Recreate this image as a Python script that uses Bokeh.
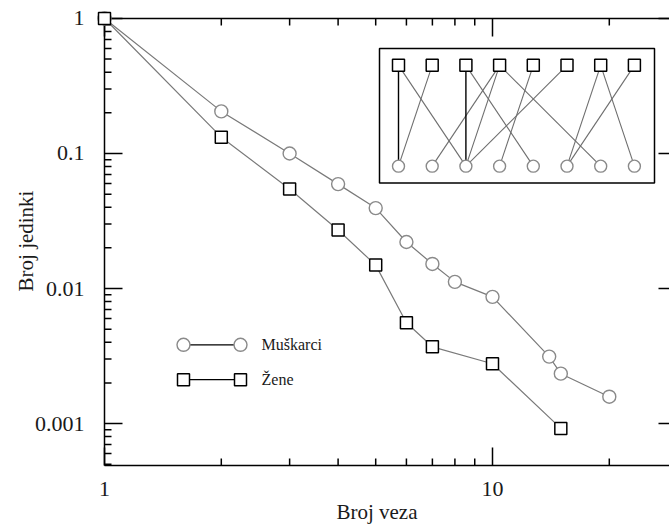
from bokeh.plotting import figure
from bokeh.models import FixedTicker, CustomJSTickFormatter, Label
from bokeh.embed import file_html
from bokeh.resources import INLINE

# ---------------- data ----------------
men_k = [1, 2, 3, 4, 5, 6, 7, 8, 10, 14, 15, 20]
men_p = [1, 0.205, 0.1, 0.0593, 0.0394, 0.0221, 0.0152, 0.0112, 0.00867, 0.00313, 0.00234, 0.00158]
women_k = [1, 2, 3, 4, 5, 6, 7, 10, 15]
women_p = [1, 0.132, 0.0545, 0.0271, 0.0149, 0.00557, 0.0037, 0.00277, 0.00092]

x_major = [1, 10]
x_minor = [2, 3, 4, 5, 6, 7, 8, 9, 20]
y_major = [1, 0.1, 0.01, 0.001]
y_minor = [m * 10.0 ** e for e in (-1, -2, -3, -4) for m in range(2, 10) if m * 10.0 ** e >= 0.0005]

legend_labels = ["Muškarci", "Žene"]

# inset bipartite graph: edges (top square index, bottom circle index)
inset_edges = [(0, 0), (0, 2), (1, 0), (2, 2), (2, 4), (3, 1), (3, 2), (3, 6),
               (4, 3), (5, 2), (6, 5), (6, 7), (7, 5)]
inset_strong = [(0, 0), (2, 2)]
n_nodes = 8

# ---------------- layout (page pixels) ----------------
W, H = 669, 526
BOX_LEFT_PX, BOX_TOP_PX, BOX_BOTTOM_PX = 104, 18, 466   # visible axes box
PAD_L, PAD_B = 20, 16                                   # frame extends past the box
DEC_X, DEC_Y = 388.0, 135.3


def dx(px):
    return 10 ** ((px - BOX_LEFT_PX) / DEC_X)


def dy(py):
    return 10 ** (-(py - BOX_TOP_PX) / DEC_Y)


FRAME_L = BOX_LEFT_PX - PAD_L
FRAME_B = BOX_BOTTOM_PX + PAD_B
X_RANGE = (dx(FRAME_L), dx(W))
Y_RANGE = (dy(FRAME_B), dy(0))
BX0, BX1 = dx(BOX_LEFT_PX), dx(W)          # box x extent (data)
BY0, BY1 = dy(BOX_BOTTOM_PX), dy(BOX_TOP_PX)  # box y extent (data)

FONT = "Liberation Serif"
INK = "#1a1a1a"

p = figure(width=W, height=H, x_axis_type="log", y_axis_type="log",
           x_range=X_RANGE, y_range=Y_RANGE, title=None,
           output_backend="svg", toolbar_location=None,
           min_border_left=FRAME_L, min_border_right=0, min_border_top=0,
           min_border_bottom=H - FRAME_B)
p.xgrid.visible = False
p.ygrid.visible = False
p.outline_line_color = None


def style_axis(ax, ticks):
    ax.ticker = FixedTicker(ticks=ticks)
    ax.axis_line_color = None
    ax.major_tick_line_color = None
    ax.minor_tick_line_color = None
    ax.major_tick_in = 0
    ax.major_tick_out = 0
    ax.minor_tick_in = 0
    ax.minor_tick_out = 0
    ax.formatter = CustomJSTickFormatter(code="return tick.toString()")
    ax.major_label_text_font = FONT
    ax.major_label_text_font_size = "22px"
    ax.major_label_text_color = INK
    ax.axis_label_text_font = FONT
    ax.axis_label_text_font_size = "21px"
    ax.axis_label_text_font_style = "normal"
    ax.axis_label_text_color = INK


xa = p.xaxis[0]
ya = p.yaxis[0]
style_axis(xa, x_major)
style_axis(ya, y_major)
xa.axis_label = "Broj veza"
ya.axis_label = "Broj jedinki"
xa.major_label_standoff = 0
xa.axis_label_standoff = 1
ya.major_label_standoff = 0
ya.axis_label_standoff = -6

# ---------------- axes box and inward ticks (glyphs) ----------------
LINE = dict(line_color="black", line_width=1.5)
p.segment(x0=[BX0, BX0, BX0], y0=[BY0, BY0, BY1],
          x1=[BX0, BX1, BX1], y1=[BY1, BY0, BY1], **LINE)

MAJ, MIN, RIGHT_MAJ = 18.0, 7.0, 11.0
xt = [float(v) for v in x_major + x_minor]
xl = [MAJ] * len(x_major) + [MIN] * len(x_minor)
yt = [float(v) for v in y_major + y_minor]
yl = [MAJ] * len(y_major) + [MIN] * len(y_minor)
# bottom
p.segment(x0=xt, y0=[BY0] * len(xt), x1=xt,
          y1=[BY0 * 10 ** (l / DEC_Y) for l in xl], **LINE)
# top
p.segment(x0=xt, y0=[BY1] * len(xt), x1=xt,
          y1=[BY1 * 10 ** (-l / DEC_Y) for l in xl], **LINE)
# left
p.segment(x0=[BX0] * len(yt), y0=yt,
          x1=[BX0 * 10 ** (l / DEC_X) for l in yl], y1=yt, **LINE)
# right edge lies just beyond the picture: only the ends of the long ticks show
ym = [float(v) for v in y_major]
p.segment(x0=[BX1] * len(ym), y0=ym,
          x1=[BX1 * 10 ** (-RIGHT_MAJ / DEC_X)] * len(ym), y1=ym, **LINE)

# ---------------- series ----------------
GREY = "#7a7a7a"
p.line(men_k, men_p, line_color=GREY, line_width=1.2)
p.line(women_k, women_p, line_color=GREY, line_width=1.2)
p.scatter(men_k, men_p, marker="circle", size=13, fill_color="white",
          line_color="#8a8a8a", line_width=1.4)
p.scatter(women_k, women_p, marker="square", size=12, fill_color="white",
          line_color="black", line_width=1.5)

# ---------------- legend (manual, two sample markers per row) ----------------
leg_rows = [345, 380]
leg_x = [183, 240]
p.segment(x0=[dx(leg_x[0])] * 2, y0=[dy(r) for r in leg_rows],
          x1=[dx(leg_x[1])] * 2, y1=[dy(r) for r in leg_rows],
          line_color="black", line_width=1.3)
p.scatter([dx(v) for v in leg_x], [dy(leg_rows[0])] * 2, marker="circle", size=13,
          fill_color="white", line_color="#8a8a8a", line_width=1.4)
p.scatter([dx(v) for v in leg_x], [dy(leg_rows[1])] * 2, marker="square", size=12,
          fill_color="white", line_color="black", line_width=1.5)
for lab, r in zip(legend_labels, leg_rows):
    p.add_layout(Label(x=dx(261), y=dy(r), text=lab, text_font=FONT,
                       text_font_size="16px", text_baseline="middle",
                       text_color=INK))

# ---------------- inset ----------------
IN_L, IN_R, IN_T, IN_B = 379, 654, 48, 183
NODE_X0, NODE_DX = 398, 33.7
TOP_Y, BOT_Y = 65, 166
p.quad(left=dx(IN_L), right=dx(IN_R), top=dy(IN_T), bottom=dy(IN_B),
       fill_color="white", line_color="black", line_width=1.5)
node_x = [dx(NODE_X0 + NODE_DX * i) for i in range(n_nodes)]
weak = [e for e in inset_edges if e not in inset_strong]
p.segment(x0=[node_x[a] for a, b in weak], y0=[dy(TOP_Y)] * len(weak),
          x1=[node_x[b] for a, b in weak], y1=[dy(BOT_Y)] * len(weak),
          line_color="#6e6e6e", line_width=1.1)
p.segment(x0=[node_x[a] for a, b in inset_strong], y0=[dy(TOP_Y)] * len(inset_strong),
          x1=[node_x[b] for a, b in inset_strong], y1=[dy(BOT_Y)] * len(inset_strong),
          line_color="black", line_width=1.4)
p.scatter(node_x, [dy(TOP_Y)] * n_nodes, marker="square", size=12,
          fill_color="white", line_color="black", line_width=1.5)
p.scatter(node_x, [dy(BOT_Y)] * n_nodes, marker="circle", size=12,
          fill_color="white", line_color="#8a8a8a", line_width=1.4)

open("out.html", "w").write(file_html(p, INLINE))
